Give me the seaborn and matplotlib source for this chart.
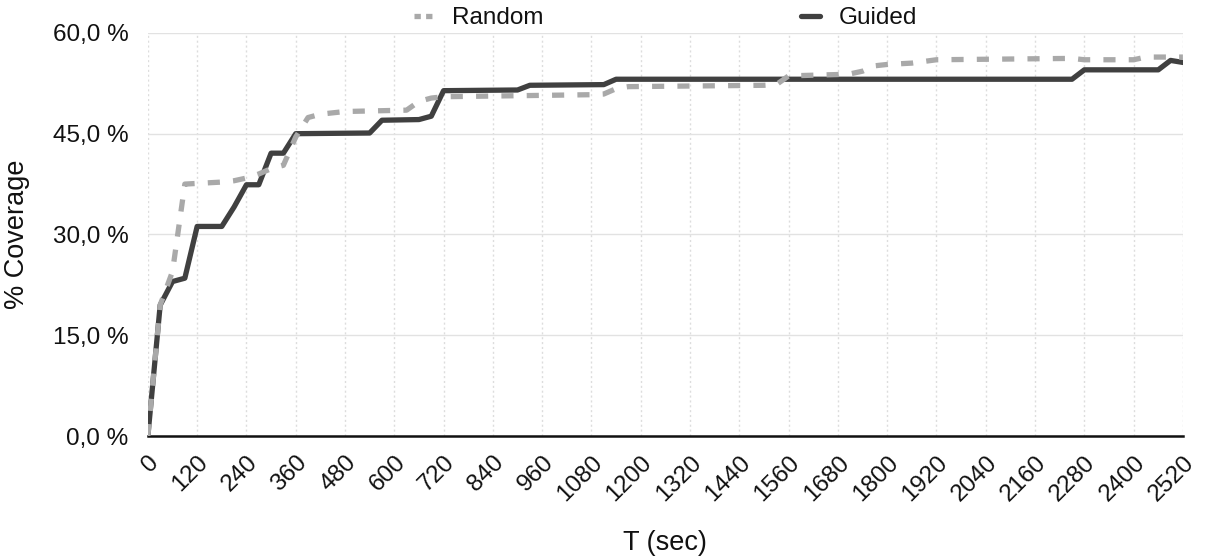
import matplotlib
matplotlib.use("Agg")
import matplotlib.pyplot as plt
import seaborn as sns
import pandas as pd
from matplotlib.ticker import FuncFormatter
from matplotlib.lines import Line2D

# ---- data ----
random_t = [0, 30, 60, 90, 120, 180, 210, 240, 270, 300, 330, 360, 390, 420, 480,
            630, 660, 690, 720, 1080, 1110, 1140, 1170, 1500, 1530, 1560, 1680,
            1710, 1740, 1770, 1800, 1860, 1920, 2250, 2280, 2400, 2430, 2520]
random_y = [0.0, 19.5, 24.5, 37.5, 37.6, 37.8, 38.0, 38.4, 39.0, 39.8, 40.3, 44.5,
            47.4, 47.9, 48.3, 48.5, 49.8, 50.3, 50.5, 50.8, 50.9, 51.7, 52.0, 52.2,
            52.3, 53.6, 53.8, 53.9, 54.3, 55.1, 55.3, 55.5, 56.0, 56.2, 56.0, 56.0,
            56.4, 56.4]

guided_t = [0, 30, 60, 90, 120, 180, 210, 240, 270, 300, 330, 360, 540, 570, 660,
            690, 720, 900, 930, 1110, 1140, 2250, 2280, 2460, 2490, 2520]
guided_y = [0.0, 19.5, 23.0, 23.5, 31.2, 31.2, 34.1, 37.4, 37.4, 42.1, 42.1, 45.0,
            45.1, 47.0, 47.1, 47.6, 51.4, 51.5, 52.2, 52.3, 53.1, 53.1, 54.5, 54.5,
            55.9, 55.6]

x_ticks = list(range(0, 2521, 120))
y_ticks = [0, 15, 30, 45, 60]

df = pd.concat([
    pd.DataFrame({"T": random_t, "cov": random_y, "series": "Random"}),
    pd.DataFrame({"T": guided_t, "cov": guided_y, "series": "Guided"}),
], ignore_index=True)

sns.set_theme(style="white")
plt.rcParams["font.family"] = ["Liberation Sans", "DejaVu Sans"]

fig = plt.figure(figsize=(12.12, 5.57), dpi=100)
ax = fig.add_axes([0.122, 0.217, 0.854, 0.724])

palette = {"Random": "#a9a9a9", "Guided": "#404040"}
sns.lineplot(data=df, x="T", y="cov", hue="series", style="series",
             hue_order=["Random", "Guided"], style_order=["Random", "Guided"],
             dashes={"Random": (2.3, 2.5), "Guided": ""},
             palette=palette, linewidth=3.8, ax=ax, legend=False)
for line in ax.get_lines():
    if line.get_color() == "#404040":
        line.set_zorder(2)
    else:
        line.set_zorder(3)

ax.set_xlim(0, 2520)
ax.set_ylim(0, 60)
ax.set_xticks(x_ticks)
ax.set_yticks(y_ticks)
ax.yaxis.set_major_formatter(FuncFormatter(lambda v, p: f"{v:.1f}".replace(".", ",") + " %"))

ax.grid(axis="y", color="#e2e2e2", linewidth=1.0, linestyle="-")
ax.grid(axis="x", color="#dddddd", linewidth=1.0, linestyle=(0, (1.5, 2)))
ax.set_axisbelow(True)

for s in ["top", "right", "left"]:
    ax.spines[s].set_visible(False)
ax.spines["bottom"].set_color("#111111")
ax.spines["bottom"].set_linewidth(1.8)

ax.tick_params(axis="y", length=0, pad=14, labelsize=17.5, colors="#111111")
ax.tick_params(axis="x", length=0, pad=11, labelsize=17.5, colors="#111111")
for lbl in ax.get_xticklabels():
    lbl.set_rotation(45)
    lbl.set_ha("right")
    lbl.set_rotation_mode("anchor")

ax.set_xlabel("T (sec)", fontsize=19.5, color="#111111", labelpad=18)
ax.set_ylabel("% Coverage", fontsize=19.5, color="#111111", labelpad=16)

handles = [Line2D([], [], color="#a9a9a9", linewidth=3.8, linestyle=(0, (1.2, 1.0))),
           Line2D([], [], color="#404040", linewidth=3.8)]
leg = ax.legend(handles, ["Random", "Guided"], loc="lower center",
                bbox_to_anchor=(0.5, 1.0), ncol=2, frameon=False,
                fontsize=17.5, handlelength=0.8, handletextpad=0.75,
                columnspacing=10.6, borderaxespad=0.0, borderpad=0.15)
for t in leg.get_texts():
    t.set_color("#111111")

fig.savefig("out.png", dpi=100)
